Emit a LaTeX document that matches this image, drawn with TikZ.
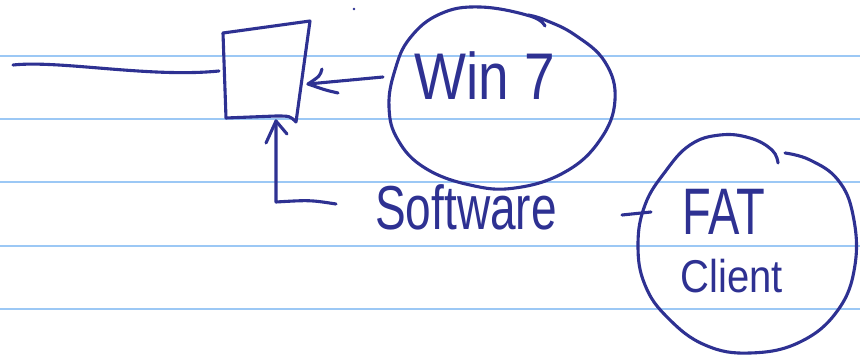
\documentclass[tikz,border=0pt]{standalone}
\usepackage{fontspec}
\usepackage{graphicx}
\setmainfont{Liberation Sans}
\definecolor{ink}{HTML}{2E3192}
\definecolor{rule}{HTML}{9CC8F5}
\begin{document}
\begin{tikzpicture}[x=1pt,y=-1pt,
  pen/.style={draw=ink,line width=3.1pt,line cap=round,line join=round},
  ruling/.style={draw=rule,line width=2.2pt},
  hand/.style={text=ink,inner sep=0pt,anchor=center}]
\useasboundingbox (0,0) rectangle (860,355);
\fill[white] (0,0) rectangle (860,355);
% ruled lines
\foreach \yy in {56,119,182,246,309}
  \draw[ruling] (0,\yy) -- (860,\yy);
% box
\coordinate (tl) at (223,33);
\coordinate (tr) at (310,21);
\coordinate (br) at (296,122);
\coordinate (bl) at (226,118);
\draw[pen] (tl) -- (tr) -- (br);
\draw[pen] (tl) -- (bl) -- (276,116) .. controls (290,116) .. (br);
\node[inner sep=0pt] (box) at (264,72) {};
% left line
\coordinate (lstart) at (13,65);
\coordinate (lend) at (219,71);
\draw[pen] (lstart) .. controls (60,60) and (150,78) .. (lend);
% win 7 circle
\draw[pen] plot[smooth, tension=0.7] coordinates {(545,26) (530,16) (480,7) (440,14) (410,38) (395,70) (389,107) (398,140) (425,168) (470,185) (515,188) (565,172) (600,140) (615,100) (605,62) (575,35) (545,20) (528,15)};
\node[hand] (win) at (485,76) {\scalebox{1.0}[1.2]{\fontsize{55}{60}\selectfont Win 7}};
% arrow win -> box
\coordinate (wtail) at (383,77);
\coordinate (wtip) at (308,84);
\draw[pen] (wtail) -- (wtip);
\draw[pen] (322,69) .. controls (320,76) .. (wtip) .. controls (325,90) .. (338,93);
% software
\node[hand] (sw) at (466,207) {\scalebox{1.0}[1.35]{\fontsize{46}{50}\selectfont Software}};
\coordinate (send) at (336,204);
\coordinate (scorner) at (276,202);
\coordinate (stip) at (276,121);
\draw[pen] (send) .. controls (310,200) .. (scorner) -- (stip);
\draw[pen] (266,143) -- (stip) -- (287,134);
% dash
\coordinate (d1) at (622,215);
\coordinate (d2) at (651,212);
\draw[pen] (d1) -- (d2);
% fat circle
\draw[pen] plot[smooth, tension=0.7] coordinates {(778,163) (772,150) (750,138) (720,135) (690,145) (665,172) (645,205) (638,245) (645,285) (668,318) (705,345) (750,353) (800,342) (838,310) (855,265) (853,215) (838,180) (810,160) (785,153)};
\node[hand] (fat) at (724,212) {\scalebox{1.0}[1.4]{\fontsize{47}{50}\selectfont FAT}};
\node[hand] (cl) at (732,276) {\scalebox{1.0}[1.15]{\fontsize{40}{44}\selectfont Client}};
% dot
\fill[ink] (354,9) circle (1.4);
\end{tikzpicture}
\end{document}
